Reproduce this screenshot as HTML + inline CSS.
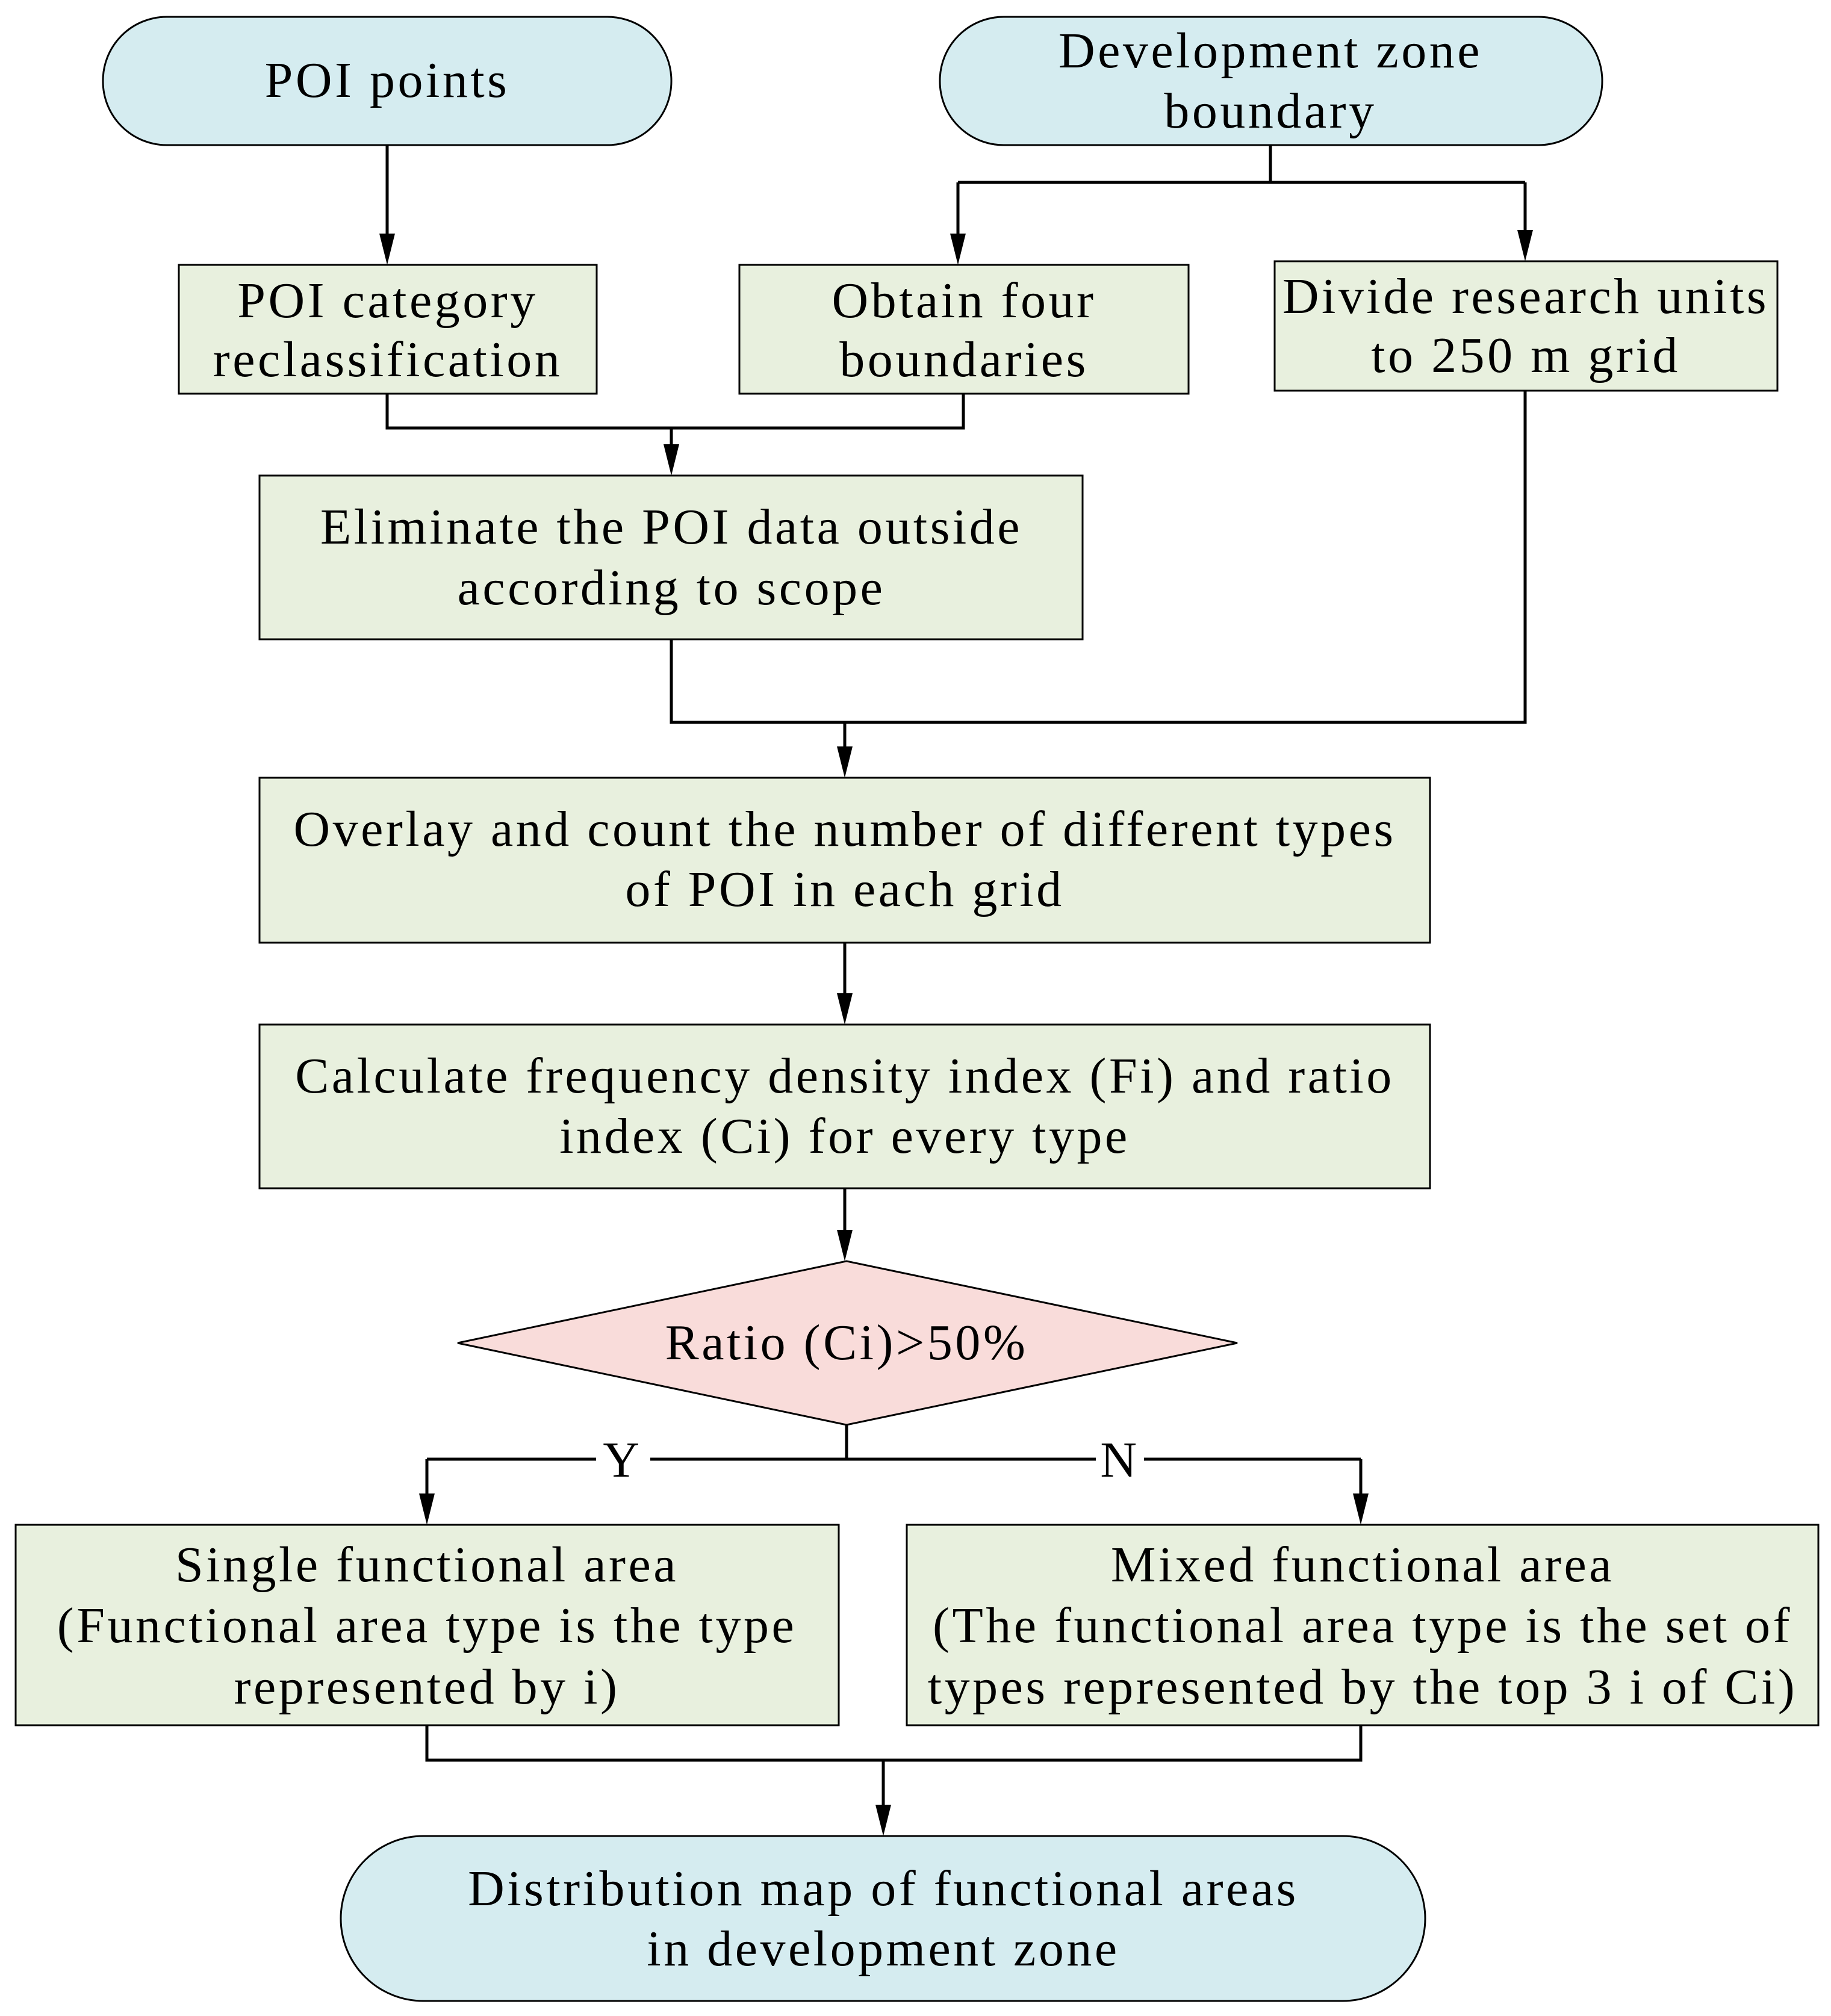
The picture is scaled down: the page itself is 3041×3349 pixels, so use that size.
<!DOCTYPE html>
<html><head><meta charset="utf-8"><style>
html,body{margin:0;padding:0;background:#fff}
svg{display:block}
text{font-family:"Liberation Serif",serif;font-size:84px;letter-spacing:4.5px;fill:#000;text-anchor:middle}
</style></head><body>
<svg width="3041" height="3349" viewBox="0 0 3041 3349" xmlns="http://www.w3.org/2000/svg">
<g stroke="#000" stroke-width="3">
<rect x="171" y="28" width="944" height="213" rx="106" fill="#d5ecf0"/>
<rect x="1561" y="28" width="1100" height="213" rx="106" fill="#d5ecf0"/>
<rect x="297" y="440" width="694" height="214" fill="#e8f0de"/>
<rect x="1228" y="440" width="746" height="214" fill="#e8f0de"/>
<rect x="2117" y="434" width="835" height="215" fill="#e8f0de"/>
<rect x="431" y="790" width="1367" height="272" fill="#e8f0de"/>
<rect x="431" y="1292" width="1944" height="274" fill="#e8f0de"/>
<rect x="431" y="1702" width="1944" height="272" fill="#e8f0de"/>
<polygon points="760,2231 1406,2095 2055,2231 1406,2367" fill="#f9dcda"/>
<rect x="26" y="2533" width="1367" height="333" fill="#e8f0de"/>
<rect x="1506" y="2533" width="1514" height="333" fill="#e8f0de"/>
<rect x="566" y="3050" width="1801" height="274" rx="137" fill="#d5ecf0"/>
</g>
<g stroke="#000" stroke-width="5" fill="none">
<path d="M643 241 V400"/>
<path d="M2110 241 V303 M1591 303 H2533"/>
<path d="M1591 303 V400"/>
<path d="M2533 303 V394"/>
<path d="M643 654 V711 H1600 V654"/>
<path d="M1115 711 V750"/>
<path d="M1115 1062 V1200 H2533 V649"/>
<path d="M1403 1200 V1252"/>
<path d="M1403 1566 V1662"/>
<path d="M1403 1974 V2055"/>
<path d="M1406 2367 V2424 M709 2424 H990 M1080 2424 H1820 M1900 2424 H2260"/>
<path d="M709 2424 V2493"/>
<path d="M2260 2424 V2493"/>
<path d="M709 2866 V2924 H2260 V2866"/>
<path d="M1467 2924 V3010"/>
</g>
<g fill="#000">
<polygon points="630,388 656,388 643,440"/>
<polygon points="1578,388 1604,388 1591,440"/>
<polygon points="2520,382 2546,382 2533,434"/>
<polygon points="1102,738 1128,738 1115,790"/>
<polygon points="1390,1240 1416,1240 1403,1292"/>
<polygon points="1390,1650 1416,1650 1403,1702"/>
<polygon points="1390,2043 1416,2043 1403,2095"/>
<polygon points="696,2481 722,2481 709,2533"/>
<polygon points="2247,2481 2273,2481 2260,2533"/>
<polygon points="1454,2998 1480,2998 1467,3050"/>
</g>
<text x="643" y="161">POI points</text>
<text x="2110" y="112">Development zone</text>
<text x="2110" y="212">boundary</text>
<text x="644" y="527">POI category</text>
<text x="644" y="625">reclassification</text>
<text x="1601" y="527">Obtain four</text>
<text x="1601" y="625">boundaries</text>
<text x="2534" y="520">Divide research units</text>
<text x="2534" y="618">to 250 m grid</text>
<text x="1115" y="903">Eliminate the POI data outside</text>
<text x="1115" y="1004">according to scope</text>
<text x="1403" y="1405">Overlay and count the number of different types</text>
<text x="1403" y="1505">of POI in each grid</text>
<text x="1403" y="1815">Calculate frequency density index (Fi) and ratio</text>
<text x="1403" y="1915">index (Ci) for every type</text>
<text x="1406" y="2258">Ratio (Ci)&gt;50%</text>
<text x="1034" y="2453">Y</text>
<text x="1860" y="2453">N</text>
<text x="709" y="2627">Single functional area</text>
<text x="709" y="2728">(Functional area type is the type</text>
<text x="709" y="2830">represented by i)</text>
<text x="2263" y="2627">Mixed functional area</text>
<text x="2263" y="2728">(The functional area type is the set of</text>
<text x="2263" y="2830">types represented by the top 3 i of Ci)</text>
<text x="1467" y="3165">Distribution map of functional areas</text>
<text x="1467" y="3265">in development zone</text>
</svg>
</body></html>
